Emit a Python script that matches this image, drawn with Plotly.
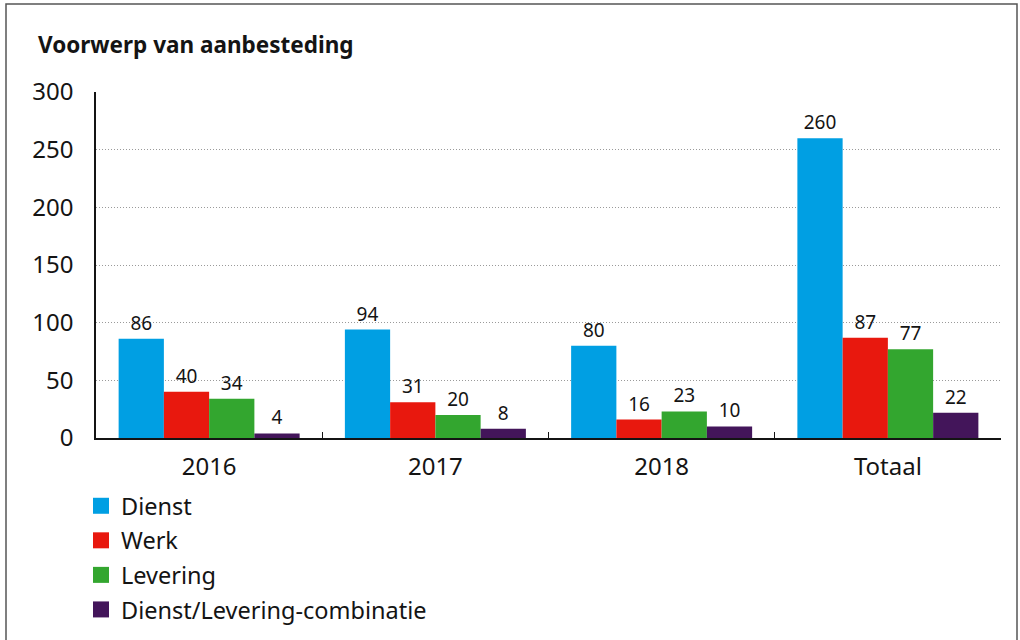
import plotly.graph_objects as go

categories = ["2016", "2017", "2018", "Totaal"]
dienst = [86, 94, 80, 260]
werk = [40, 31, 16, 87]
levering = [34, 20, 23, 77]
combinatie = [4, 8, 10, 22]

series = [
    ("Dienst", dienst, "#009FE3"),
    ("Werk", werk, "#E8180E"),
    ("Levering", levering, "#33A62F"),
    ("Dienst/Levering-combinatie", combinatie, "#43155A"),
]

FONT = "Noto Sans"
INK = "#141414"

fig = go.Figure()
for name, vals, col in series:
    fig.add_trace(go.Bar(
        x=categories, y=vals, name=name, marker=dict(color=col, line=dict(width=0)),
        text=[str(v) for v in vals], textposition="outside", cliponaxis=False,
        textfont=dict(family=FONT, size=19, color=INK), showlegend=False,
    ))
for name, vals, col in series:
    fig.add_trace(go.Scatter(
        x=[None], y=[None], mode="markers", name=name, legendgroup=name,
        marker=dict(symbol="square", size=16, color=col, line=dict(width=0)),
        showlegend=True,
    ))

# Figure is a little taller than the 640px window; the extra strip is cut off below.
W, H = 1020, 680
L, R, T = 96, 19, 92
B = H - 438
pw, ph = W - L - R, H - T - B

def px_x(x):
    return (x - L) / pw

def px_y(y):
    return (H - B - y) / ph

fig.update_layout(
    width=W, height=H,
    margin=dict(l=L, r=R, t=T, b=B),
    paper_bgcolor="white", plot_bgcolor="white",
    barmode="group", bargap=0.2, bargroupgap=0,
    font=dict(family=FONT, color=INK),
    showlegend=True,
    legend=dict(
        x=px_x(81), y=px_y(484), xanchor="left", yanchor="top",
        orientation="v", font=dict(family=FONT, size=23.5, color=INK),
        itemwidth=30, tracegroupgap=1, bgcolor="rgba(0,0,0,0)",
    ),
    xaxis=dict(
        showline=True, linecolor=INK, linewidth=1.5,
        ticks="inside", tickson="boundaries", ticklen=6, tickcolor=INK,
        tickfont=dict(family=FONT, size=24, color=INK), ticklabelstandoff=6,
        showgrid=False,
    ),
    yaxis=dict(
        range=[0, 300], tickvals=[0, 50, 100, 150, 200, 250, 300],
        showline=True, linecolor=INK, linewidth=1.5,
        showgrid=True, gridcolor="#9a9a9a", griddash="1px,2px", gridwidth=1,
        zeroline=False, ticks="", ticklabelstandoff=16,
        tickfont=dict(family=FONT, size=24, color=INK),
    ),
    annotations=[dict(
        text="<b>Voorwerp van aanbesteding</b>", xref="paper", yref="paper",
        x=px_x(36), y=px_y(45), xanchor="left", yanchor="middle", showarrow=False,
        font=dict(family=FONT, size=22.5, color=INK),
    )],
    shapes=[dict(
        type="rect", xref="paper", yref="paper",
        x0=px_x(6), x1=px_x(1017), y0=px_y(H + 20), y1=px_y(4),
        line=dict(color="#555555", width=1.5), fillcolor="rgba(0,0,0,0)", layer="below",
    )],
)

fig.write_html(
    "out.html",
    config={"displayModeBar": False},
    post_script="document.body.style.margin='0';document.body.style.overflow='hidden';",
)
